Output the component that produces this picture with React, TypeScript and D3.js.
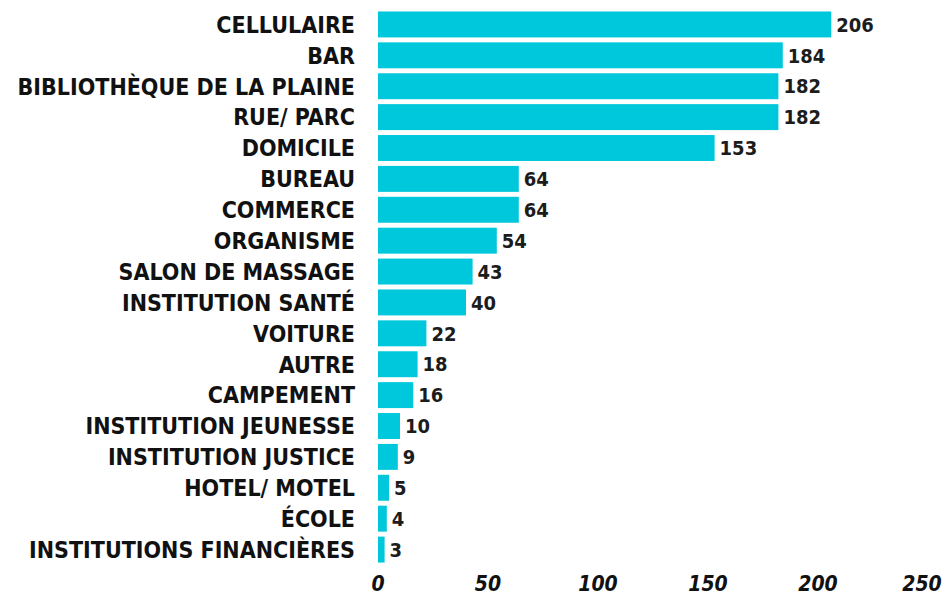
import React, { useEffect, useRef } from 'react';
import * as d3 from 'd3';

const categories = [
  'CELLULAIRE', 'BAR', 'BIBLIOTHÈQUE DE LA PLAINE', 'RUE/ PARC', 'DOMICILE',
  'BUREAU', 'COMMERCE', 'ORGANISME', 'SALON DE MASSAGE', 'INSTITUTION SANTÉ',
  'VOITURE', 'AUTRE', 'CAMPEMENT', 'INSTITUTION JEUNESSE', 'INSTITUTION JUSTICE',
  'HOTEL/ MOTEL', 'ÉCOLE', 'INSTITUTIONS FINANCIÈRES',
];
const values = [206, 184, 182, 182, 153, 64, 64, 54, 43, 40, 22, 18, 16, 10, 9, 5, 4, 3];
const ticks = [0, 50, 100, 150, 200, 250];

const FONT = '"DejaVu Sans Condensed", "DejaVu Sans", sans-serif';

const App = () => {
  const ref = useRef<HTMLDivElement>(null);

  useEffect(() => {
    d3.select(ref.current).selectAll('svg').remove();
    const width = 949;
    const height = 598;

    const svg = d3.select(ref.current)
      .append('svg')
      .attr('width', width)
      .attr('height', height)
      .style('display', 'block');

    const x = d3.scaleLinear().domain([0, 250]).range([378, 928]);
    const y = d3.scaleBand().domain(categories).range([9, 565]).paddingInner(0.16).paddingOuter(0.08);

    const data = categories.map((c, i) => ({ c, v: values[i] }));

    svg.selectAll('.bar')
      .data(data)
      .enter()
      .append('rect')
      .attr('class', 'bar')
      .attr('x', x(0))
      .attr('y', d => y(d.c)!)
      .attr('width', d => x(d.v) - x(0))
      .attr('height', y.bandwidth())
      .attr('fill', '#00c8dc');

    svg.selectAll('.val')
      .data(data)
      .enter()
      .append('text')
      .attr('x', d => x(d.v) + 5)
      .attr('y', d => y(d.c)! + y.bandwidth() / 2)
      .attr('dy', '0.36em')
      .attr('font-family', FONT)
      .attr('font-weight', 'bold')
      .attr('font-size', 20)
      .attr('fill', '#1c1c1c')
      .text(d => d.v);

    svg.selectAll('.cat')
      .data(data)
      .enter()
      .append('text')
      .attr('x', 355)
      .attr('y', d => y(d.c)! + y.bandwidth() / 2)
      .attr('dy', '0.36em')
      .attr('text-anchor', 'end')
      .attr('font-family', FONT)
      .attr('font-weight', 'bold')
      .attr('font-size', 23)
      .attr('fill', '#111')
      .text(d => d.c);

    svg.selectAll('.tick')
      .data(ticks)
      .enter()
      .append('text')
      .attr('x', d => x(d) - (d === 250 ? 6 : 0))
      .attr('y', 583)
      .attr('dy', '0.36em')
      .attr('text-anchor', 'middle')
      .attr('font-family', FONT)
      .attr('font-weight', 'bold')
      .attr('font-style', 'italic')
      .attr('font-size', 21)
      .attr('fill', '#111')
      .text(d => d);
  }, []);

  return <div ref={ref} style={{ position: 'absolute', left: 0, top: 0 }}></div>;
};

export default App;
